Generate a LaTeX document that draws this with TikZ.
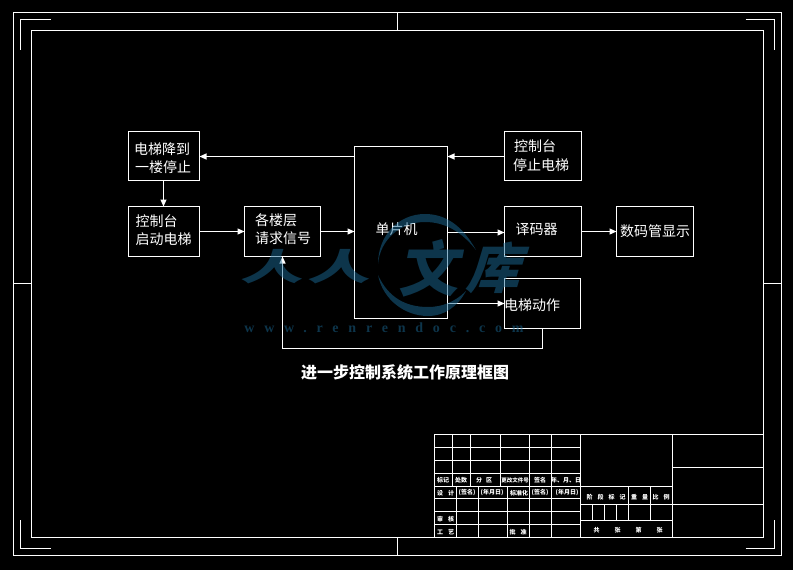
\documentclass[tikz,border=0pt]{standalone}
\usepackage{fontspec}
\setmainfont{Noto Sans CJK SC}
\newfontfamily\wmfont[LetterSpace=70]{Liberation Serif}
\usetikzlibrary{arrows.meta}
\definecolor{wmblue}{RGB}{26,106,150}
\newcommand{\bx}[5]{\node[box,minimum width={(#4-#2)*1pt},minimum height={(#5-#3)*1pt}] (#1) at ({(#2+#4)/2},{(#3+#5)/2}) {};}
\tikzset{
  box/.style={draw=white,line width=1.1pt,inner sep=0pt,outer sep=0pt},
  conn/.style={draw=white,line width=1.1pt,-{Triangle[length=7pt,width=6pt]},white},
  frameline/.style={draw=white,line width=1.1pt},
  lbl/.style={text=white,inner sep=0pt,font=\fontsize{14}{14}\selectfont},
  tiny/.style={text=white,inner sep=0pt,font=\fontsize{6}{6}\selectfont\bfseries},
  wm/.style={fill=wmblue,opacity=.5,draw=none},
  wmt/.style={text=wmblue,text opacity=.5,inner sep=0pt},
}
\begin{document}
\begin{tikzpicture}[x=1pt,y=-1pt]
\fill[black] (0,0) rectangle (793,570);
\useasboundingbox (0,0) rectangle (793,570);
% sheet frame
\draw[frameline] (13.5,12.5) rectangle (781.5,555.5);
\draw[frameline] (31.5,30.5) rectangle (763.5,537.5);
\draw[frameline] (397.5,12.5) -- (397.5,30.5) (397.5,537.5) -- (397.5,555.5);
\draw[frameline] (13.5,283.5) -- (31.5,283.5) (763.5,283.5) -- (781.5,283.5);
\draw[frameline] (50.5,19.5) -- (20.5,19.5) -- (20.5,49.5);
\draw[frameline] (745.5,19.5) -- (774.5,19.5) -- (774.5,49.5);
\draw[frameline] (50.5,548.5) -- (20.5,548.5) -- (20.5,519.5);
\draw[frameline] (745.5,548.5) -- (774.5,548.5) -- (774.5,519.5);
% title block
\draw[frameline] (434.5,434.5) rectangle (763.5,537.5);
\foreach \y in {447.5,460.5,473.5,486.5,498.5,511.5,524.5} \draw[frameline] (434.5,\y) -- (580.5,\y);
\foreach \x in {452.5,470.5,500.5} \draw[frameline] (\x,434.5) -- (\x,486.5);
\foreach \x in {456.5,478.5,507.5} \draw[frameline] (\x,486.5) -- (\x,537.5);
\foreach \x in {529.5,551.5,580.5,672.5} \draw[frameline] (\x,434.5) -- (\x,537.5);
\draw[frameline] (580.5,486.5) -- (672.5,486.5);
\draw[frameline] (580.5,504.5) -- (763.5,504.5);
\draw[frameline] (580.5,520.5) -- (672.5,520.5);
\draw[frameline] (672.5,467.5) -- (763.5,467.5);
\foreach \x in {628.5,650.5} \draw[frameline] (\x,486.5) -- (\x,520.5);
\foreach \x in {592.5,604.5,616.5} \draw[frameline] (\x,504.5) -- (\x,520.5);
\node[tiny] (t1) at (443,480) {标记};
\node[tiny] (t2) at (461,480) {处数};
\node[tiny] (t3) at (484,480) {分\hspace{4pt}区};
\node[tiny,font=\fontsize{5.5}{6}\selectfont\bfseries] (t4) at (515,480) {更改文件号};
\node[tiny] (t5) at (540,480) {签名};
\node[tiny] (t6) at (566,480) {年、月、日};
\node[tiny] (t7) at (445.5,493) {设\hspace{5pt}计};
\node[tiny] (t8) at (467,493) {(签名)};
\node[tiny] (t9) at (492,493) {(年月日)};
\node[tiny] (t10) at (519,493) {标准化};
\node[tiny] (t11) at (540,493) {(签名)};
\node[tiny] (t12) at (567,493) {(年月日)};
\node[tiny] (t13) at (445.5,519) {审\hspace{5pt}核};
\node[tiny] (t14) at (445.5,532) {工\hspace{5pt}艺};
\node[tiny] (t15) at (518,532) {批\hspace{5pt}准};
\node[tiny] (t16) at (606,497) {阶\hspace{5pt}段\hspace{5pt}标\hspace{5pt}记};
\node[tiny] (t17) at (639.5,497) {重\hspace{5pt}量};
\node[tiny] (t18) at (661,497) {比\hspace{5pt}例};
\node[tiny] (t19) at (628,530) {共\hspace{15pt}张\hspace{15pt}第\hspace{15pt}张};
% boxes
\bx{lower}{128.5}{131.5}{199.5}{180.5}
\bx{start}{128.5}{206.5}{199.5}{256.5}
\bx{req}{244.5}{206.5}{320.5}{256.5}
\bx{mcu}{354.5}{146.5}{447.5}{318.5}
\bx{stopb}{504.5}{131.5}{581.5}{180.5}
\bx{dec}{504.5}{206.5}{581.5}{256.5}
\bx{disp}{616.5}{206.5}{693.5}{256.5}
\bx{act}{504.5}{278.5}{580.5}{328.5}
% texts
\node[lbl] (l1) at (162,149) {电梯降到};
\node[lbl] (l2) at (163,167.5) {一楼停止};
\node[lbl,anchor=west] (s1) at (135.5,221) {控制台};
\node[lbl,anchor=west] (s2) at (135.5,239) {启动电梯};
\node[lbl,anchor=west] (r1) at (255,220) {各楼层};
\node[lbl,anchor=west] (r2) at (255,238.5) {请求信号};
\node[lbl] (m1) at (396.5,229) {单片机};
\node[lbl,anchor=west] (p1) at (514,146) {控制台};
\node[lbl,anchor=west] (p2) at (513,165) {停止电梯};
\node[lbl] (d1) at (536.5,229) {译码器};
\node[lbl] (d2) at (655,231) {数码管显示};
\node[lbl] (a1) at (532,305) {电梯动作};
\node[text=white,inner sep=0pt,font=\fontsize{16}{16}\selectfont\bfseries] (title) at (405,372) {进一步控制系统工作原理框图};
% connectors
\draw[conn] ([yshift=-.5pt]mcu.west |- lower.east) -- ([yshift=-.5pt]lower.east);
\draw[conn] ([yshift=-.5pt]stopb.west) -- ([yshift=-.5pt]stopb.west -| mcu.east);
\draw[conn] ([xshift=-.5pt]lower.south) -- ([xshift=-.5pt]start.north);
\draw[conn] (start.east) -- (req.west);
\draw[conn] (req.east) -- (req.east -| mcu.west);
\draw[conn] ([yshift=-1pt]dec.west -| mcu.east) -- ([yshift=-1pt]dec.west);
\draw[conn] (dec.east) -- (disp.west);
\draw[conn] (act.west -| mcu.east) -- (act.west);
\draw[conn] (act.south) -- ++(0,20) -| (req.south);
% watermark
\fill[wm] (476,250) .. controls (462,225) and (445,214) .. (425,214) .. controls (398,214) and (378,236) .. (378,264) .. controls (380,240) and (400,222) .. (425,222) .. controls (445,222) and (462,232) .. (476,250) -- cycle;
\fill[wm] (378,275) .. controls (383,300) and (405,316) .. (428,316) .. controls (445,316) and (458,306) .. (466,291) .. controls (455,302) and (442,307) .. (428,307) .. controls (405,307) and (388,297) .. (378,275) -- cycle;
\node[wmt,font=\fontsize{56}{56}\selectfont\bfseries,xslant=.25,yscale=.65,xscale=1.12] (w1) at (275,267) {人};
\node[wmt,font=\fontsize{56}{56}\selectfont\bfseries,xslant=.25,yscale=.65,xscale=1.12] (w2) at (342,267) {人};
\node[wmt,font=\fontsize{60}{60}\selectfont\bfseries,xslant=.2] (w3) at (433,268) {文};
\node[wmt,font=\fontsize{54}{54}\selectfont\bfseries,xslant=.3] (w4) at (499,268) {库};
\node[wmt,font=\fontsize{14}{14}\wmfont\bfseries] (w5) at (384,328) {www.renrendoc.com};
\end{tikzpicture}
\end{document}
